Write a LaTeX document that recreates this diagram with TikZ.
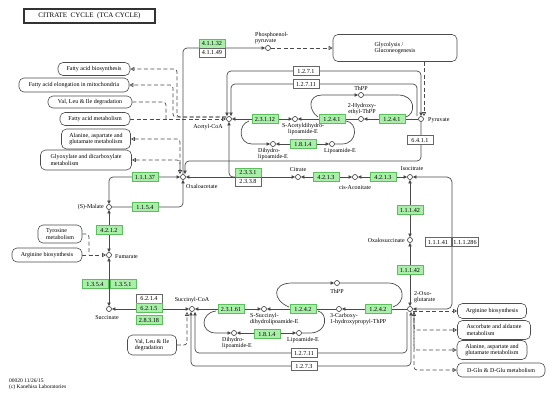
\documentclass[tikz,border=0pt]{standalone}
\usepackage{fontspec}
\setmainfont{Liberation Serif}
\usetikzlibrary{arrows.meta}
\pgfdeclarelayer{bg}
\pgfsetlayers{bg,main}
\definecolor{gfill}{HTML}{A9EEA9}
\definecolor{gline}{HTML}{5DBE5D}
\definecolor{lcol}{HTML}{4A4A4A}
\tikzset{
 fa/.tip={Triangle[length=3.6pt,width=3.4pt]},
 oa/.tip={Triangle[open,length=4pt,width=4pt,fill=white]},
 enz/.style={rectangle,draw=gline,fill=gfill,line width=0.8pt,minimum width=26pt,minimum height=9pt,inner sep=0pt,font=\fontsize{6.2}{6.2}\selectfont},
 enzw/.style={enz,draw=black!60,fill=white,line width=0.6pt},
 cpd/.style={circle,draw=black!80,fill=white,line width=0.6pt,minimum size=5pt,inner sep=0pt},
 lbl/.style={inner sep=0pt,font=\fontsize{6}{6.5}\selectfont,align=left},
 mapbox/.style={draw=black!70,rounded corners=5pt,line width=0.6pt,fill=white,align=left,inner sep=0pt,font=\fontsize{6}{6.5}\selectfont},
 ln/.style={draw=lcol,line width=0.7pt},
 dsh/.style={draw=lcol,line width=0.7pt,dash pattern=on 4pt off 2.5pt},
}
\begin{document}
\begin{tikzpicture}[x=1pt,y=-1pt]
\useasboundingbox (0,0) rectangle (550,400);
% title and footer
\node[draw=black!80,line width=1.3pt,minimum width=131pt,minimum height=14pt,inner sep=0pt,font=\fontsize{7}{7}\selectfont] (title) at (89.5,16) {CITRATE\ \ CYCLE\ \ (TCA CYCLE)};
\node[lbl,anchor=north west,font=\fontsize{5.5}{6}\selectfont] (foot) at (9,379) {00020 11/26/15\\(c) Kanehisa Laboratories};
% map boxes
\node[mapbox,minimum width=72pt,minimum height=13pt] (fab) at (94,69) {Fatty acid biosynthesis};
\node[mapbox,minimum width=110pt,minimum height=14pt] (fae) at (74,85) {Fatty acid elongation in mitochondria};
\node[mapbox,minimum width=84pt,minimum height=12pt] (vli1) at (90,102) {Val, Leu \& Ile degradation};
\node[mapbox,minimum width=70pt,minimum height=13pt] (fam) at (95,119) {Fatty acid metabolism};
\node[mapbox,minimum width=69pt,minimum height=20pt] (ala1) at (96,139) {Alanine, aspartate and\\glutamate metabolism};
\node[mapbox,minimum width=91pt,minimum height=20pt] (glx) at (86,160) {Glyoxylate and dicarboxylate\\metabolism};
\node[mapbox,minimum width=44pt,minimum height=18pt] (tyr) at (60,234) {Tyrosine\\metabolism};
\node[mapbox,minimum width=70pt,minimum height=14pt] (arg1) at (47,255) {Arginine biosynthesis};
\node[mapbox,minimum width=49pt,minimum height=20pt] (vli2) at (152,345) {Val, Leu \& Ile\\degradation};
\node[mapbox,minimum width=124pt,minimum height=27pt] (glyc) at (395,48) {Glycolysis /\\Gluconeogenesis};
\node[mapbox,minimum width=69pt,minimum height=15pt] (arg2) at (492,311) {Arginine biosynthesis};
\node[mapbox,minimum width=73pt,minimum height=19pt] (asc) at (494,330) {Ascorbate and aldarate\\metabolism};
\node[mapbox,minimum width=70pt,minimum height=19pt] (ala2) at (492,350) {Alanine, aspartate and\\glutamate metabolism};
\node[mapbox,minimum width=88pt,minimum height=14pt] (dgln) at (501,370) {D-Gln \& D-Glu metabolism};
% compounds
\node[cpd] (pep) at (268,48) {};
\node[lbl,anchor=south west] (pepl) at (255,44) {Phosphoenol-\\pyruvate};
\node[cpd] (acoa) at (229,119) {};
\node[lbl] (acoal) at (208,127) {Acetyl-CoA};
\node[cpd] (oaa) at (183,177) {};
\node[lbl,anchor=west] (oaal) at (186,186) {Oxaloacetate};
\node[cpd] (cit) at (298,177) {};
\node[lbl] (citl) at (298,170) {Citrate};
\node[cpd] (cis) at (355,177) {};
\node[lbl] (cisl) at (355,188) {cis-Aconitate};
\node[cpd] (iso) at (410,177) {};
\node[lbl] (isol) at (412,169) {Isocitrate};
\node[cpd] (oxs) at (410,240) {};
\node[lbl,anchor=east] (oxsl) at (405,240) {Oxalosuccinate};
\node[cpd] (og) at (410,309) {};
\node[lbl,anchor=south west] (ogl) at (414,303) {2-Oxo-\\glutarate};
\node[cpd] (sca) at (192,309) {};
\node[lbl] (scal) at (192,300) {Succinyl-CoA};
\node[cpd] (suc) at (109,309) {};
\node[lbl] (sucl) at (107,318) {Succinate};
\node[cpd] (fum) at (109,255) {};
\node[lbl,anchor=west] (fuml) at (115,257) {Fumarate};
\node[cpd] (mal) at (109,207) {};
\node[lbl,anchor=east] (mall) at (104,207) {(S)-Malate};
\node[cpd] (pyr) at (421,119) {};
\node[lbl,anchor=west] (pyrl) at (428,120) {Pyruvate};
\node[cpd] (sacet) at (295,119) {};
\node[lbl,anchor=north,align=center] (sacetl) at (303,123) {S-Acetyldihydro-\\lipoamide-E};
\node[cpd] (hetpp) at (361,119) {};
\node[lbl,align=center] (hetppl) at (362,109) {2-Hydroxy-\\ethyl-ThPP};
\node[cpd] (thpa) at (361,95) {};
\node[lbl] (thpal) at (361,88) {ThPP};
\node[cpd] (dhla) at (273,144) {};
\node[lbl,anchor=north west] (dhlal) at (258,148) {Dihydro-\\lipoamide-E};
\node[cpd] (lipa) at (332,144) {};
\node[lbl,anchor=north west] (lipal) at (324,148) {Lipoamide-E};
\node[cpd] (ssuc) at (264,309) {};
\node[lbl,anchor=north west] (ssucl) at (250,313) {S-Succinyl-\\dihydrolipoamide-E};
\node[cpd] (chp) at (339,309) {};
\node[lbl,anchor=north west] (chpl) at (330,313) {3-Carboxy-\\1-hydroxypropyl-ThPP};
\node[cpd] (thpb) at (337,283) {};
\node[lbl] (thpbl) at (337,291) {ThPP};
\node[cpd] (dhlb) at (234,333) {};
\node[lbl,anchor=north west] (dhlbl) at (222,337) {Dihydro-\\lipoamide-E};
\node[cpd] (lipb) at (299,333) {};
\node[lbl,anchor=north west] (lipbl) at (287,337) {Lipoamide-E};
% enzymes
\node[enz] (e41132) at (212,43.5) {4.1.1.32};
\node[enzw] (e41149) at (212,52.5) {4.1.1.49};
\node[enzw] (e12471) at (306,71) {1.2.7.1};
\node[enzw] (e127111) at (306,84) {1.2.7.11};
\node[enz] (e23112) at (265,119) {2.3.1.12};
\node[enz] (e1241a) at (332,119) {1.2.4.1};
\node[enz] (e1241b) at (392,119) {1.2.4.1};
\node[enz] (e1814a) at (303,144) {1.8.1.4};
\node[enzw] (e6411) at (420,140) {6.4.1.1};
\node[enz] (e2331) at (248,172.5) {2.3.3.1};
\node[enzw] (e2338) at (248,181.5) {2.3.3.8};
\node[enz] (e11137) at (145,177) {1.1.1.37};
\node[enz] (e1154) at (145,207) {1.1.5.4};
\node[enz] (e4212) at (109,230) {4.2.1.2};
\node[enz] (e4213a) at (326,177) {4.2.1.3};
\node[enz] (e4213b) at (383,177) {4.2.1.3};
\node[enz] (e11142a) at (410,210) {1.1.1.42};
\node[enz] (e11142b) at (410,270) {1.1.1.42};
\node[enzw] (e11141) at (438,242) {1.1.1.41};
\node[enzw] (e111286) at (465,242) {1.1.1.286};
\node[enz] (e1354) at (95,284) {1.3.5.4};
\node[enz] (e1351) at (123,284) {1.3.5.1};
\node[enzw] (e6214) at (149,298.5) {6.2.1.4};
\node[enz] (e6215) at (149,308) {6.2.1.5};
\node[enz] (e28318) at (149,320) {2.8.3.18};
\node[enz] (e23161) at (231,309) {2.3.1.61};
\node[enz] (e1242a) at (303,309) {1.2.4.2};
\node[enz] (e1242b) at (378,309) {1.2.4.2};
\node[enz] (e1814b) at (267,334) {1.8.1.4};
\node[enzw] (e127112) at (304,353) {1.2.7.11};
\node[enzw] (e1273) at (304,366) {1.2.7.3};
% helper coordinates
\coordinate (j1) at (166,119);
\coordinate (j2) at (245,177);
\coordinate (j3) at (89,255);
\coordinate (la1) at (318,117);
\coordinate (la2) at (406,117);
\coordinate (lb1) at (249,121);
\coordinate (lb2) at (346,121);
\coordinate (lc1) at (289,307);
\coordinate (lc2) at (393,307);
\coordinate (ld1) at (216,311);
\coordinate (ld2) at (318,311);
\begin{pgfonlayer}{bg}
% PEP / glycolysis
\draw[ln,-fa,rounded corners=4pt] (oaa.north) |- (pep.west);
\draw[dsh,-oa] (pep.east) -- (glyc.west);
\draw[dsh,-oa] ([xshift=29pt]glyc.south) -- ([xshift=3pt]pyr.north);
% pyruvate carboxylase
\draw[ln,-fa,rounded corners=4pt] (pyr.south) -- (421,161) -- (185,161) -- ([xshift=2pt]oaa.north);
% pyruvate -> acetyl-CoA (1.2.7.x)
\draw[ln,fa-fa,rounded corners=4pt] ([xshift=-2pt]acoa.north) -- (227,71) -- (421,71) -- (pyr.north);
\draw[ln,-fa,rounded corners=4pt] ([xshift=-4pt]pyr.north) -- (417,84) -- (231,84) -- ([xshift=2pt]acoa.north);
% PDH chain
\draw[ln,-fa] (pyr.west) -- (hetpp.east);
\draw[ln,-fa] (hetpp.west) -- (sacet.east);
\draw[ln,fa-fa] (sacet.west) -- (acoa.east);
\draw[ln,-fa] (la1) .. controls (308,110) and (308,95) .. (322,95) -- (thpa.west);
\draw[ln] (thpa.east) -- (398,95) .. controls (416,95) and (416,114) .. (la2);
\draw[ln,-fa] (lb1) .. controls (238,124) and (238,144) .. (252,144) -- (dhla.west);
\draw[ln,fa-fa] (dhla.east) -- (lipa.west);
\draw[ln] (lipa.east) -- (342,144) .. controls (358,144) and (358,122) .. (lb2);
% fatty acid maps
\draw[dsh,-oa,rounded corners=3pt] ([yshift=2pt]acoa.west) -- (177,117) |- (fab.east);
\draw[dsh,-oa,rounded corners=3pt] ([yshift=2pt]acoa.west) -- (173,117) |- (fae.east);
\draw[dsh,-oa] (fam.east) -- (acoa.west);
\draw[dsh,rounded corners=3pt] (vli1.east) -| (j1);
% oxaloacetate maps
\draw[dsh,oa-oa,rounded corners=3pt] (ala1.east) -| ([xshift=-3pt]oaa.north);
\draw[dsh,oa-,rounded corners=3pt] (glx.east) -| ([xshift=-3pt]oaa.north);
% citrate synthase and aconitase
\draw[ln,fa-fa] (oaa.east) -- (cit.west);
\draw[ln,fa-,rounded corners=4pt] (acoa.south) -- (229,177) -- (j2);
\draw[ln,fa-fa] (cit.east) -- (cis.west);
\draw[ln,fa-fa] (cis.east) -- (iso.west);
% IDH
\draw[ln,fa-fa] (iso.south) -- (oxs.north);
\draw[ln,fa-fa] (oxs.south) -- (og.north);
\draw[ln,fa-fa,rounded corners=5pt] (iso.east) -- (452,177) -- (452,309) -- (og.east);
% OGDH chain
\draw[ln,-fa] (og.west) -- (chp.east);
\draw[ln,-fa] (chp.west) -- (ssuc.east);
\draw[ln,fa-fa] (ssuc.west) -- (sca.east);
\draw[ln,-fa] (lc1) .. controls (272,300) and (272,283) .. (292,283) -- (thpb.west);
\draw[ln] (thpb.east) -- (388,283) .. controls (406,283) and (406,303) .. (lc2);
\draw[ln,-fa] (ld1) .. controls (200,313) and (200,333) .. (216,333) -- (dhlb.west);
\draw[ln,fa-fa] (dhlb.east) -- (lipb.west);
\draw[ln] (lipb.east) -- (310,333) .. controls (328,333) and (328,313) .. (ld2);
\draw[ln,-fa,rounded corners=4pt] ([xshift=-3pt]og.south) -- (407,353) -- (195,353) -- ([xshift=3pt]sca.south);
\draw[ln,fa-fa,rounded corners=4pt] ([xshift=1pt]og.south) -- (411,366) -- (191,366) -- ([xshift=-1pt]sca.south);
% 2-OG maps
\draw[dsh,-oa] ([yshift=-2pt]og.east) -- (arg2.west);
\draw[dsh,oa-oa,rounded corners=3pt] ([xshift=4pt]og.south) |- (dgln.west);
\draw[dsh,-oa,rounded corners=3pt] ([xshift=4pt]og.south) |- (asc.west);
\draw[dsh,-oa,rounded corners=3pt] ([xshift=4pt]og.south) |- (ala2.west);
\draw[dsh,-oa,rounded corners=3pt] (vli2.east) -| ([xshift=-5pt]sca.south);
% succinate, fumarate, malate
\draw[ln,fa-fa] (sca.west) -- (suc.east);
\draw[ln,fa-fa] (suc.north) -- (fum.south);
\draw[ln,fa-fa] (fum.north) -- (mal.south);
\draw[ln,fa-fa,rounded corners=4pt] (mal.north) |- (oaa.west);
\draw[ln,-fa,rounded corners=4pt] (mal.east) -| (oaa.south);
\draw[dsh,-oa] (arg1.east) -- (fum.west);
\draw[dsh,rounded corners=3pt] (tyr.east) -| (j3);
\end{pgfonlayer}
\end{tikzpicture}
\end{document}
